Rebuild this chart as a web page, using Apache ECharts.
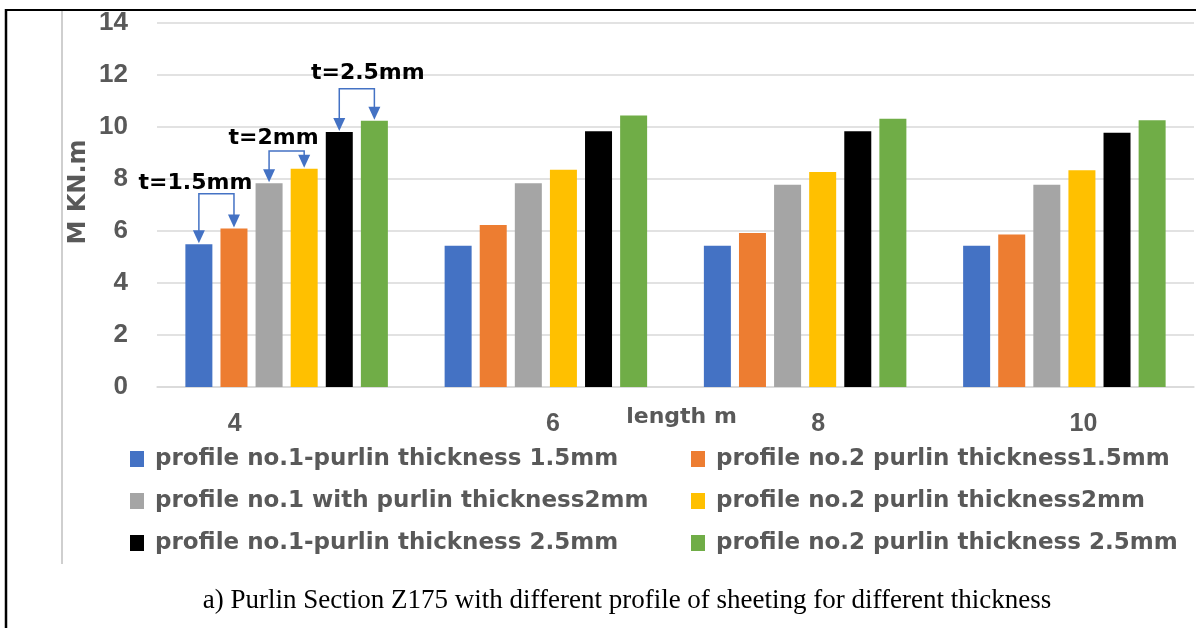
<!DOCTYPE html>
<html>
<head>
<meta charset="utf-8">
<style>
  html, body { margin: 0; padding: 0; background: #ffffff; }
  #chart { width: 1196px; height: 628px; }
</style>
<script src="https://cdn.jsdelivr.net/npm/echarts@6/dist/echarts.min.js"></script>
</head>
<body>
<div id="chart"></div>
<script>
// Span lengths (m) on the category axis
const categories = ['4', '6', '8', '10'];

// Moment capacity M (kN.m) per series
const seriesNames = [
  'profile no.1-purlin thickness 1.5mm',
  'profile no.2 purlin thickness1.5mm',
  'profile no.1 with purlin thickness2mm',
  'profile no.2 purlin thickness2mm',
  'profile no.1-purlin thickness 2.5mm',
  'profile no.2 purlin thickness 2.5mm'
];
const p1t15 = [5.49, 5.43, 5.43, 5.43];
const p2t15 = [6.10, 6.23, 5.92, 5.87];
const p1t20 = [7.84, 7.84, 7.78, 7.78];
const p2t20 = [8.39, 8.36, 8.27, 8.34];
const p1t25 = [9.81, 9.84, 9.84, 9.78];
const p2t25 = [10.24, 10.44, 10.32, 10.26];
const seriesValues = [p1t15, p2t15, p1t20, p2t20, p1t25, p2t25];

// Value axis range
const yMin = 0, yMax = 14, yStep = 2;

const colors = ['#4472C4', '#ED7D31', '#A5A5A5', '#FFC000', '#000000', '#70AD47'];

// Thickness callouts over the first span group: series pair, bracket height (kN.m)
const callouts = [
  { text: 't=1.5mm', pair: [0, 1], level: 7.43, dx: -21, dy: -11 },
  { text: 't=2mm',   pair: [2, 3], level: 9.08, dx: -13, dy: -13 },
  { text: 't=2.5mm', pair: [4, 5], level: 11.47, dx: 11, dy: -15 }
];

const BAR_W = 27;
const BAR_GAP = 0.30;

// per-category label nudges (px) so the span numbers sit where they are printed
const labelNudge = { '4': -52, '6': 7, '8': 13, '10': 19 };

const NUM_FONT = '"Liberation Sans", Arial, sans-serif';
const TXT_FONT = '"DejaVu Sans", Verdana, sans-serif';
const GREY_TEXT = '#595959';

const chart = echarts.init(document.getElementById('chart'), null, { renderer: 'canvas' });

const rich = {};
categories.forEach((c, i) => {
  const n = labelNudge[c] || 0;
  rich['c' + i] = {
    fontFamily: NUM_FONT, fontWeight: 'bold', fontSize: 25, color: GREY_TEXT,
    padding: n < 0 ? [0, -2 * n, 0, 0] : [0, 0, 0, 2 * n]
  };
});

const legendText = {
  fontFamily: TXT_FONT, fontWeight: 'bold', fontSize: 23, lineHeight: 26,
  color: GREY_TEXT, padding: [0, 0, 0, 6]
};

const option = {
  animation: false,
  backgroundColor: '#ffffff',
  color: colors,
  grid: { left: 157, right: 2, top: 23, bottom: 241, containLabel: false },
  legend: [
    {
      data: [seriesNames[0], seriesNames[2], seriesNames[4]],
      orient: 'vertical', left: 130, top: 446, padding: 0, itemWidth: 14, itemHeight: 16, itemGap: 16,
      icon: 'rect', textStyle: legendText
    },
    {
      data: [seriesNames[1], seriesNames[3], seriesNames[5]],
      orient: 'vertical', left: 691, top: 446, padding: 0, itemWidth: 14, itemHeight: 16, itemGap: 16,
      icon: 'rect', textStyle: legendText
    }
  ],
  xAxis: {
    type: 'category',
    data: categories,
    name: 'length m',
    nameLocation: 'middle',
    nameGap: 19,
    nameMoveOverlap: false,
    nameTextStyle: { fontFamily: TXT_FONT, fontWeight: 'bold', fontSize: 22, color: GREY_TEXT, padding: [0, 0, 0, 12] },
    axisLine: { show: true, lineStyle: { color: '#d9d9d9', width: 1.5 } },
    axisTick: { show: false },
    axisLabel: {
      margin: 25,
      formatter: (v, i) => '{c' + i + '|' + v + '}',
      rich: rich
    }
  },
  yAxis: {
    type: 'value',
    min: yMin, max: yMax, interval: yStep,
    name: 'M KN.m',
    nameLocation: 'middle',
    nameGap: 66,
    nameMoveOverlap: false,
    nameTextStyle: { fontFamily: TXT_FONT, fontWeight: 'bold', fontSize: 24, color: GREY_TEXT, padding: [0, 0, 0, 26] },
    axisLine: { show: false },
    axisTick: { show: false },
    axisLabel: { margin: 29, fontFamily: NUM_FONT, fontWeight: 'bold', fontSize: 26, color: GREY_TEXT },
    splitLine: { lineStyle: { color: '#d9d9d9', width: 1.5 } }
  },
  series: seriesNames.map((name, i) => ({
    name: name,
    type: 'bar',
    data: seriesValues[i],
    barWidth: BAR_W,
    barGap: (BAR_GAP * 100) + '%',
    itemStyle: { color: colors[i] }
  }))
};

chart.setOption(option);

// Frame, caption and callouts placed from the laid-out axes
function barCenter(catIndex, seriesIndex) {
  const cx = chart.convertToPixel({ xAxisIndex: 0 }, catIndex);
  const step = BAR_W * (1 + BAR_GAP);
  return cx + (seriesIndex - (seriesNames.length - 1) / 2) * step;
}

function buildGraphics() {
  const els = [];
  // page frame lines
  els.push({ type: 'line', shape: { x1: 5, y1: 10, x2: 1196, y2: 10 }, style: { stroke: '#000', lineWidth: 2 }, z: 100 });
  els.push({ type: 'line', shape: { x1: 6, y1: 9, x2: 6, y2: 628 }, style: { stroke: '#000', lineWidth: 2.5 }, z: 100 });
  els.push({ type: 'line', shape: { x1: 62, y1: 11, x2: 62, y2: 564 }, style: { stroke: '#bfbfbf', lineWidth: 1.5 }, z: 100 });

  // caption
  els.push({
    type: 'text', x: 627, y: 601,
    style: {
      text: 'a) Purlin Section Z175 with different profile of sheeting for different thickness',
      font: '27px "Liberation Serif", "Times New Roman", serif', fill: '#000',
      align: 'center', verticalAlign: 'middle'
    }
  });

  const arrowColor = '#4472C4';
  callouts.forEach(c => {
    const yb = chart.convertToPixel({ yAxisIndex: 0 }, c.level);
    const xs = c.pair.map(s => barCenter(0, s));
    const tops = c.pair.map(s => chart.convertToPixel({ yAxisIndex: 0 }, seriesValues[s][0]));
    els.push({
      type: 'polyline',
      shape: { points: [[xs[0], tops[0] - 10], [xs[0], yb], [xs[1], yb], [xs[1], tops[1] - 10]] },
      style: { stroke: arrowColor, lineWidth: 1.5, fill: null }, z: 50
    });
    xs.forEach((x, k) => {
      const t = tops[k] - 1;
      els.push({
        type: 'polygon',
        shape: { points: [[x - 6, t - 13], [x + 6, t - 13], [x, t]] },
        style: { fill: arrowColor }, z: 50
      });
    });
    els.push({
      type: 'text',
      x: (xs[0] + xs[1]) / 2 + c.dx, y: yb + c.dy,
      style: {
        text: c.text, fill: '#000', align: 'center', verticalAlign: 'middle',
        font: 'bold 22px "DejaVu Sans", Verdana, sans-serif'
      }, z: 60
    });
  });
  chart.setOption({ graphic: { elements: els } });
}
buildGraphics();
</script>
</body>
</html>
